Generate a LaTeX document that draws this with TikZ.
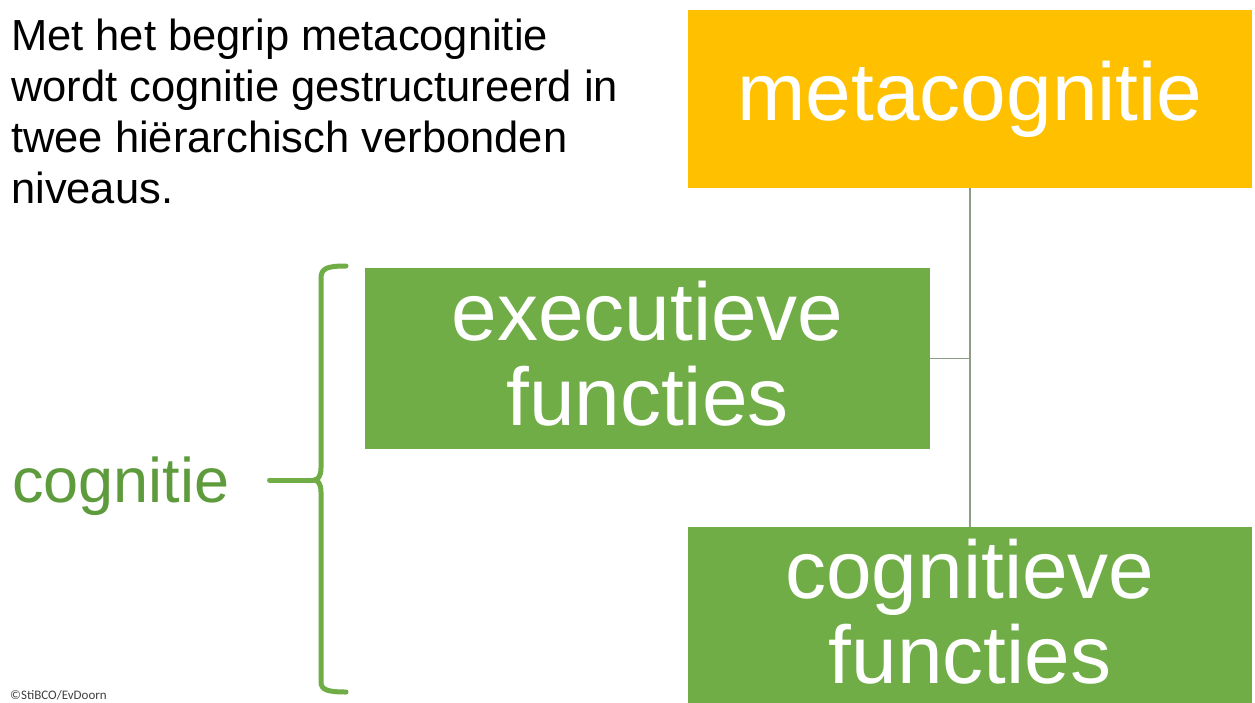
\documentclass[tikz,border=0pt]{standalone}
\usepackage{fontspec}
\setmainfont{Liberation Sans}
\newfontfamily\notefont{Carlito}
\definecolor{metayellow}{HTML}{FFC000}
\definecolor{boxgreen}{HTML}{70AD47}
\definecolor{labelgreen}{HTML}{5E9B3D}
\definecolor{linkgray}{HTML}{8E9E86}
\begin{document}
\begin{tikzpicture}[x=1pt,y=-1pt,
  levelbox/.style={rectangle, inner sep=0pt, minimum width=564pt},
  boxtext/.style={inner sep=0pt, text=white, align=center,
    font=\fontsize{82}{85}\selectfont},
  link/.style={draw=linkgray, line width=1.8pt},
  bracket/.style={draw=boxgreen, line width=5pt, line cap=round, line join=round}]
\useasboundingbox[fill=white] (0,0) rectangle (1255,702);

% intro text
\node[anchor=north west, inner sep=0pt, align=left,
      font=\fontsize{43.5}{51}\selectfont] (intro) at (11,19)
  {Met het begrip metacognitie\\wordt cognitie gestructureerd in\\twee hiërarchisch verbonden\\niveaus.};

% the three levels
\node[levelbox, fill=metayellow, minimum height=178pt] (meta) at (970,99) {};
\node[levelbox, fill=boxgreen, minimum width=565pt, minimum height=181pt] (exec) at (647.5,358.5) {};
\node[levelbox, fill=boxgreen, minimum height=178pt] (cogf) at (970,616) {};

\node[boxtext] (metatext) at (meta.center) {metacognitie};
\node[boxtext] (exectext) at ([yshift=4.5pt]exec.center) {executieve\\functies};
\node[boxtext] (cogftext) at ([yshift=4pt]cogf.center) {cognitieve\\functies};

% hierarchy connectors
\coordinate (trunk) at (970,358.5);
\draw[link] (meta.south) -- (cogf.north);
\draw[link] (exec.east) -- (trunk);

% cognitie label with curly bracket
\node[anchor=base west, inner sep=0pt, text=labelgreen,
      font=\fontsize{63}{63}\selectfont] (cogn) at (12,502) {cognitie};
\coordinate (tip) at (314,480);
\draw[bracket] (346,266) .. controls (328,266) and (321,268) .. (321,278)
  -- (321,468) .. controls (321,476) and (318,480) .. (tip)
  .. controls (318,480) and (321,484) .. (321,492)
  -- (321,682) .. controls (321,690) and (328,692) .. (346,692);
\draw[bracket] ([xshift=40pt]cogn.east |- tip) -- (tip);

% credit line
\node[anchor=base west, inner sep=0pt, text=black!75,
      font=\notefont\fontsize{13}{13}\selectfont] (credit) at (10,699) {©StiBCO/EvDoorn};
\end{tikzpicture}
\end{document}
